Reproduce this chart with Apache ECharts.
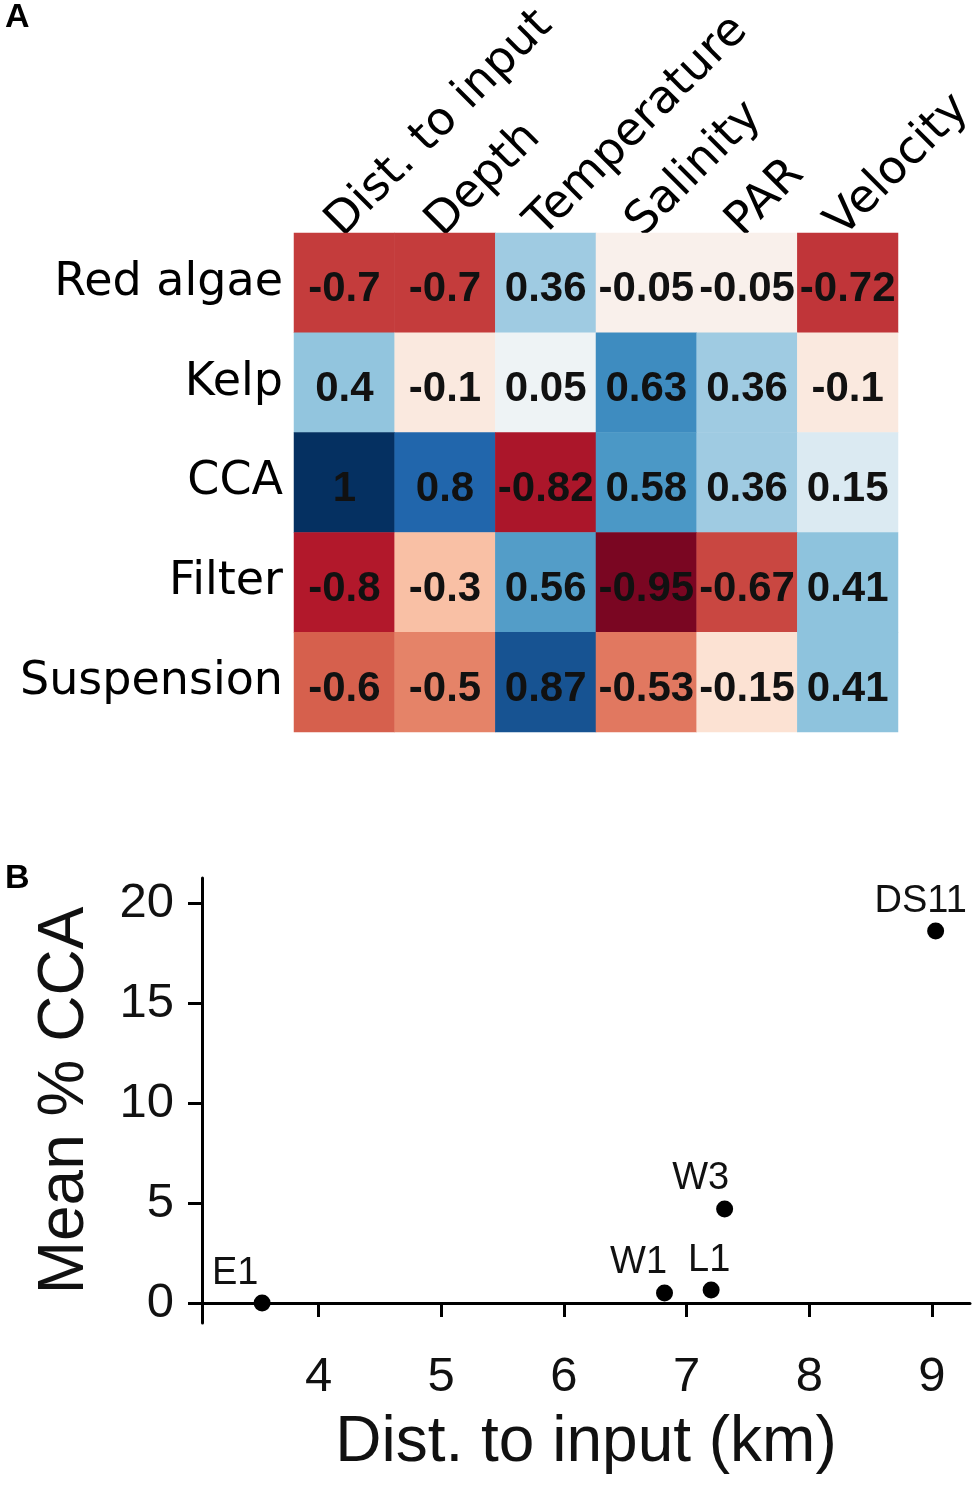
<!DOCTYPE html>
<html>
<head>
<meta charset="utf-8">
<title>Correlations and CCA cover</title>
<script src="https://cdn.jsdelivr.net/npm/echarts@6/dist/echarts.min.js"></script>
<style>
  html, body { margin: 0; padding: 0; background: #fff; }
  #chart { width: 980px; height: 1501px; }
</style>
</head>
<body>
<div id="chart"></div>
<script>
// panel A: correlation matrix
var rowNames = ['Red algae', 'Kelp', 'CCA', 'Filter', 'Suspension'];
var colNames = ['Dist. to input', 'Depth', 'Temperature', 'Salinity', 'PAR', 'Velocity'];
var redAlgae = [-0.7, -0.7, 0.36, -0.05, -0.05, -0.72];
var kelp = [0.4, -0.1, 0.05, 0.63, 0.36, -0.1];
var cca = [1, 0.8, -0.82, 0.58, 0.36, 0.15];
var filterFeeders = [-0.8, -0.3, 0.56, -0.95, -0.67, 0.41];
var suspension = [-0.6, -0.5, 0.87, -0.53, -0.15, 0.41];

// panel B: mean % CCA vs distance to input
var sites = ['E1', 'W1', 'L1', 'W3', 'DS11'];
var distKm = [3.54, 6.82, 7.20, 7.31, 9.03];
var meanCCA = [0, 0.5, 0.65, 4.7, 18.6];
var xTicks = [4, 5, 6, 7, 8, 9];
var yTicks = [0, 5, 10, 15, 20];

// RdBu palette (corrplot default)
var rdbu = ['#67001F', '#B2182B', '#D6604D', '#F4A582', '#FDDBC7', '#F7F7F7',
            '#D1E5F0', '#92C5DE', '#4393C3', '#2166AC', '#053061'];

// label nudges for the site names (px)
var labelNudge = [[-27, -29], [-26, -30], [-2, -29], [-24, -30], [-15, -29]];

var matrix = [redAlgae, kelp, cca, filterFeeders, suspension];
var cells = [];
for (var r = 0; r < matrix.length; r++) {
  for (var c = 0; c < matrix[r].length; c++) {
    cells.push([c, r, matrix[r][c]]);
  }
}

var points = [];
for (var i = 0; i < sites.length; i++) {
  points.push({
    name: sites[i],
    value: [distKm[i], meanCCA[i]],
    label: { offset: labelNudge[i] }
  });
}

var txt = '#111';
var chart = echarts.init(document.getElementById('chart'), null, { renderer: 'canvas' });

chart.setOption({
  animation: false,
  backgroundColor: '#fff',
  title: [
    { text: 'A', left: 0, top: -4, textStyle: { fontFamily: 'Liberation Sans', fontWeight: 'bold', fontSize: 34, color: '#000' } },
    { text: 'B', left: 0, top: 857, textStyle: { fontFamily: 'Liberation Sans', fontWeight: 'bold', fontSize: 34, color: '#000' } }
  ],
  grid: [
    { left: 294, top: 233, width: 604, height: 499 },
    { left: 202, top: 878, width: 768, height: 445 },
    { left: 284, top: 233, width: 604, height: 499 }
  ],
  visualMap: {
    show: false,
    type: 'continuous',
    seriesIndex: 0,
    min: -1,
    max: 1,
    inRange: { color: rdbu }
  },
  xAxis: [
    {
      gridIndex: 0, type: 'category', data: colNames, position: 'top',
      axisLine: { show: false }, axisTick: { show: false }, axisLabel: { show: false },
      splitLine: { show: false }
    },
    {
      gridIndex: 1, type: 'value', min: 3.05, max: 9.31,
      name: 'Dist. to input (km)', nameLocation: 'middle', nameGap: 88,
      nameTextStyle: { fontFamily: 'Liberation Sans', fontSize: 64, color: txt },
      axisLine: { show: true, lineStyle: { color: '#000', width: 3 } },
      axisTick: { show: true, length: 14, lineStyle: { color: '#000', width: 3 }, customValues: xTicks },
      axisLabel: { fontFamily: 'Liberation Sans', fontSize: 49, color: txt, margin: 30, customValues: xTicks },
      splitLine: { show: false }
    },
    {
      gridIndex: 2, type: 'category', data: colNames, position: 'top',
      axisLine: { show: false }, axisTick: { show: false },
      axisLabel: { rotate: -45, margin: 16, interval: 0, fontFamily: 'DejaVu Sans', fontSize: 46, color: '#000' },
      splitLine: { show: false }
    }
  ],
  yAxis: [
    {
      gridIndex: 0, type: 'category', data: rowNames, inverse: true,
      axisLine: { show: false }, axisTick: { show: false },
      axisLabel: { margin: 11, fontFamily: 'DejaVu Sans', fontSize: 46, color: '#000' },
      splitLine: { show: false }
    },
    {
      gridIndex: 1, type: 'value', min: -1, max: 21.25,
      name: 'Mean % CCA', nameLocation: 'middle', nameGap: 105,
      nameTextStyle: { fontFamily: 'Liberation Sans', fontSize: 64, color: txt },
      axisLine: { show: true, lineStyle: { color: '#000', width: 3 } },
      axisTick: { show: true, length: 14, lineStyle: { color: '#000', width: 3 }, customValues: yTicks },
      axisLabel: { fontFamily: 'Liberation Sans', fontSize: 49, color: txt, margin: 28, customValues: yTicks },
      splitLine: { show: false }
    },
    {
      gridIndex: 2, type: 'category', data: rowNames, show: false
    }
  ],
  series: [
    {
      type: 'heatmap',
      xAxisIndex: 0,
      yAxisIndex: 0,
      data: cells,
      label: {
        show: true,
        offset: [0, 7],
        fontFamily: 'Liberation Sans',
        fontWeight: 'bold',
        fontSize: 42,
        color: txt,
        formatter: function (p) { return String(p.value[2]); }
      },
      itemStyle: { borderWidth: 0 },
      emphasis: { disabled: true }
    },
    {
      type: 'scatter',
      xAxisIndex: 1,
      yAxisIndex: 1,
      symbolSize: 17,
      itemStyle: { color: '#000', opacity: 1 },
      data: points,
      label: {
        show: true,
        position: 'inside',
        fontFamily: 'Liberation Sans',
        fontSize: 38,
        color: txt,
        formatter: '{b}'
      },
      emphasis: { disabled: true }
    }
  ]
});
</script>
</body>
</html>
